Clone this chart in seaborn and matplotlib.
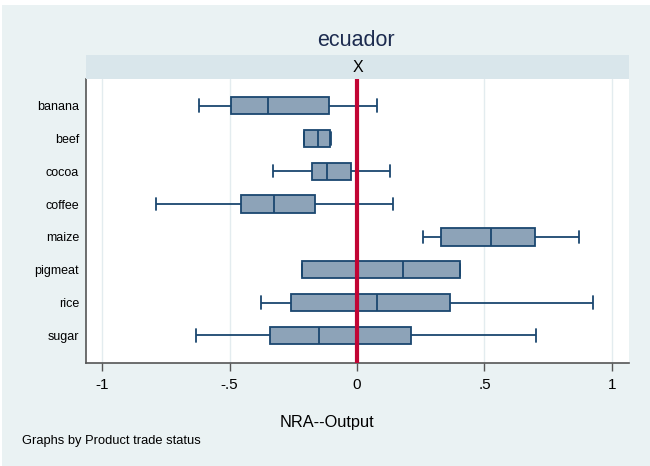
import matplotlib
matplotlib.use("Agg")
import matplotlib.pyplot as plt
from matplotlib.patches import Rectangle
import seaborn as sns
import pandas as pd

# Five-number summaries (min, q1, median, q3, max)
categories = ["banana", "beef", "cocoa", "coffee", "maize", "pigmeat", "rice", "sugar"]
lower_whisker = [-0.621, -0.206, -0.331, -0.788, 0.259, -0.217, -0.376, -0.631]
q1 = [-0.496, -0.206, -0.177, -0.454, 0.328, -0.217, -0.258, -0.342]
median = [-0.348, -0.154, -0.116, -0.324, 0.524, 0.181, 0.078, -0.150]
q3 = [-0.108, -0.107, -0.025, -0.163, 0.698, 0.404, 0.366, 0.210]
upper_whisker = [0.078, -0.101, 0.130, 0.140, 0.872, 0.404, 0.925, 0.702]
xticks = [-1, -0.5, 0, 0.5, 1]
xtick_labels = ["-1", "-.5", "0", ".5", "1"]
title = "ecuador"
strip_label = "X"
xlabel = "NRA--Output"
note = "Graphs by Product trade status"

rows = []
for i, c in enumerate(categories):
    for v in (lower_whisker[i], q1[i], median[i], q3[i], upper_whisker[i]):
        rows.append({"product": c, "nra": v})
df = pd.DataFrame(rows)

sns.set_theme(style="white")
plt.rcParams["font.family"] = ["Liberation Sans", "DejaVu Sans"]

BG = "#EAF2F3"
W, H = 650, 466
fig = plt.figure(figsize=(6.5, 4.66), dpi=100)
fig.patch.set_facecolor("white")
fig.add_artist(Rectangle((2 / W, 0), 1, 1 - 5 / H, transform=fig.transFigure,
                         facecolor=BG, edgecolor="none", zorder=-10))

left, right, bottom, top = 86 / W, 629 / W, 1 - 363 / H, 1 - 79 / H
ax = fig.add_axes([left, bottom, right - left, top - bottom])
ax.set_facecolor("white")

box_w = 0.53
sns.boxplot(data=df, x="nra", y="product", order=categories, orient="h",
            whis=(0, 100), width=box_w, color="#8DA3B8", linecolor="#1A476F",
            linewidth=1.3, fliersize=0, saturation=1, ax=ax, zorder=3)

# Adjust caps length
for ln in ax.lines:
    xd, yd = ln.get_xdata(), ln.get_ydata()
    if len(xd) == 2 and xd[0] == xd[1] and abs(yd[1] - yd[0]) < box_w * 0.75:
        c = (yd[0] + yd[1]) / 2
        ln.set_ydata([c - 0.19, c + 0.19])

for xv in xticks:
    ax.axvline(xv, color="#E3ECEF", lw=1.0, zorder=0)
ax.axvline(0, color="#C10534", lw=3.0, zorder=6)

ax.set_xlim(-1.063, 1.067)
ax.set_ylim(7.84, -0.81)
ax.set_xticks(xticks)
ax.set_xticklabels(xtick_labels, fontsize=11, color="black")
ax.tick_params(axis="x", length=6, width=1, color="#555555", pad=5, direction="out", bottom=True)
ax.tick_params(axis="y", length=0, pad=5, labelsize=9, labelcolor="black")
ax.set_xlabel("")
ax.set_ylabel("")
for s in ("top", "right"):
    ax.spines[s].set_visible(False)
for s in ("left", "bottom"):
    ax.spines[s].set_visible(True)
    ax.spines[s].set_color("#555555")
    ax.spines[s].set_linewidth(1.2)

# Strip
sax = fig.add_axes([left, 1 - 79 / H, right - left, 24 / H])
sax.set_facecolor("#D9E6EB")
sax.set_xticks([]); sax.set_yticks([])
for s in sax.spines.values():
    s.set_visible(False)
sax.text(0.5, 0.5, strip_label, ha="center", va="center", fontsize=11.5, color="black",
         transform=sax.transAxes)

fig.text(356 / W, 1 - 41 / H, title, ha="center", va="center", fontsize=15.5, color="#1C2B4F")
fig.text(326.5 / W, 1 - 423 / H, xlabel, ha="center", va="center", fontsize=11.8, color="black")
fig.text(22 / W, 1 - 441 / H, note, ha="left", va="center", fontsize=9.3, color="black")

fig.savefig("out.png", dpi=100, facecolor=fig.get_facecolor())
